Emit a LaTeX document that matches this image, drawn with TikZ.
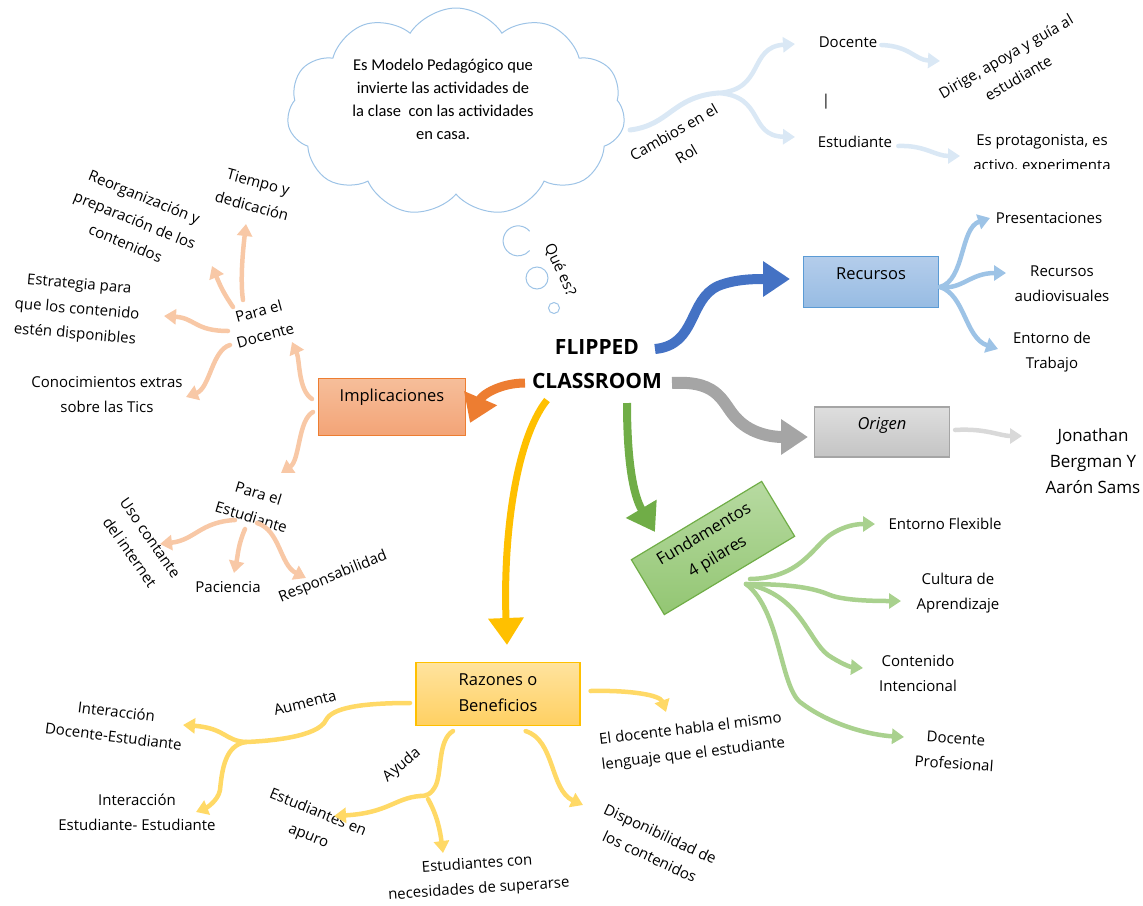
\documentclass[tikz,border=0pt]{standalone}
\usepackage{fontspec}
\setmainfont{Open Sans}
\newfontfamily\cloudfont{Carlito}
\usetikzlibrary{arrows.meta,shapes.symbols}
\definecolor{cloudblue}{HTML}{9DC3E6}
\definecolor{rolblue}{HTML}{DAE8F5}
\definecolor{mblue}{HTML}{4472C4}
\definecolor{recA}{HTML}{B4CDEB}
\definecolor{recB}{HTML}{97BCE3}
\definecolor{recline}{HTML}{5B9BD5}
\definecolor{recbr}{HTML}{9DC3E6}
\definecolor{mgray}{HTML}{A5A5A5}
\definecolor{oriA}{HTML}{DEDEDE}
\definecolor{oriB}{HTML}{C4C4C4}
\definecolor{oribr}{HTML}{D9D9D9}
\definecolor{mgreen}{HTML}{70AD47}
\definecolor{funA}{HTML}{B7DAA1}
\definecolor{funB}{HTML}{93C673}
\definecolor{grbr}{HTML}{A9D18E}
\definecolor{myellow}{HTML}{FFC000}
\definecolor{razA}{HTML}{FFE39E}
\definecolor{razB}{HTML}{FFD062}
\definecolor{yebr}{HTML}{FFD966}
\definecolor{morange}{HTML}{ED7D31}
\definecolor{impA}{HTML}{F6BE9A}
\definecolor{impB}{HTML}{F3A477}
\definecolor{orbr}{HTML}{F8C8A6}
\tikzset{
  tx/.style={font=\fontsize{15}{25}\selectfont, align=center, inner sep=0pt},
  lbl/.style={font=\fontsize{16.5}{26}\selectfont, align=center, inner sep=0pt},
  boxs/.style={draw, line width=1.2pt, inner sep=0pt},
  br/.style={line width=4.5pt, line cap=round, -{Triangle[length=12pt,width=15pt]}},
  bigarr/.style={line width=#1, -{Triangle[length=27pt,width=34pt]}},
  bub/.style={circle, draw=cloudblue, line width=1pt, inner sep=0pt},
}
\begin{document}
\begin{tikzpicture}[x=1pt,y=-1pt]
\useasboundingbox (0,0) rectangle (1143,905);

% ---------- cloud ----------
\node[cloud, cloud puffs=11, cloud puff arc=115, aspect=1.65, draw=cloudblue, line width=1pt,
      minimum width=338pt, minimum height=208pt] (cloud) at (456,112) {};
\node[font=\cloudfont\fontsize{16.5}{23}\selectfont, align=center, inner sep=0pt] (cloudt) at (443,99)
  {Es Modelo Pedagógico que\\invierte las actividades de\\la clase\ \ con las actividades\\en casa.};
\node[circle, inner sep=0pt, minimum size=30pt] (b1) at (518,241) {};
\draw[cloudblue, line width=1pt] (b1.40) arc[start angle=40, end angle=320, radius=15pt];
\node[bub, minimum size=22pt] (b2) at (537,278) {};
\node[bub, minimum size=11pt] (b3) at (554,308) {};
\node[tx, rotate=-65] (quees) at (560,270) {Qué es?};

% ---------- centre ----------
\node[font=\fontsize{21}{26}\selectfont\bfseries, inner sep=0pt] (fl1) at (597,347) {FLIPPED};
\node[font=\fontsize{21}{26}\selectfont\bfseries, inner sep=0pt] (fl2) at (597,381) {CLASSROOM};

% ---------- boxes ----------
\node[boxs, draw=recline, top color=recA, bottom color=recB, minimum width=135pt, minimum height=51pt] (rec) at (871,282) {};
\node[lbl] (recL) at (871,274) {Recursos};
\node[boxs, draw=mgray, top color=oriA, bottom color=oriB, minimum width=135pt, minimum height=50pt] (ori) at (882,432) {};
\node[lbl, font=\fontsize{16.5}{26}\selectfont\itshape] (oriL) at (882,425) {Origen};
\node[boxs, draw=morange, top color=impA, bottom color=impB, minimum width=147pt, minimum height=57pt] (imp) at (392,407) {};
\node[lbl] (impL) at (392,397) {Implicaciones};
\node[boxs, draw=myellow, top color=razA, bottom color=razB, minimum width=164pt, minimum height=63pt] (raz) at (498,694) {};
\node[lbl] (razL) at (498,693) {Razones o\\Beneficios};
\node[boxs, draw=mgreen, top color=funA, bottom color=funB, minimum width=152pt, minimum height=64pt, rotate=31] (fun) at (713,548) {};
\node[lbl, rotate=31] (funL) at (711,546) {Fundamentos\\4 pilares};

% ---------- main arrows ----------
\coordinate (sBlue) at (655,349);   \coordinate (tBlue) at (790,279);
\coordinate (sGray) at (672,383);   \coordinate (tGray) at (808,437);
\coordinate (sGreen) at (627,403);  \coordinate (tGreen) at (655,532);
\coordinate (sYel) at (547,400);    \coordinate (tYel) at (507,645);
\coordinate (sOr) at (525,383);     \coordinate (tOr) at (470,423);
\draw[bigarr=10pt, mblue] (sBlue) .. controls (697,345) and (688,300) .. (718,286) .. controls (735,279) and (755,279) .. (tBlue);
\draw[bigarr=12pt, mgray] (sGray) .. controls (722,380) and (722,405) .. (738,420) .. controls (752,434) and (772,437) .. (tGray);
\draw[bigarr=8pt, mgreen] (sGreen) .. controls (627,460) and (633,495) .. (tGreen);
\draw[bigarr=7pt, myellow] (sYel) .. controls (515,440) and (503,540) .. (tYel);
\draw[bigarr=9pt, morange] (sOr) .. controls (500,383) and (482,395) .. (tOr);

% ---------- Cambios en el Rol ----------
\coordinate (rolS) at (630,130); \coordinate (rolJ) at (718,93);
\node[tx] (doc) at (848,42) {Docente};
\node[tx] (est) at (855,142) {Estudiante};
\node[tx] (bar) at (826,102) {|};
\node[tx, rotate=30] (cambios) at (680,143) {Cambios en el\\Rol};
\node[tx, rotate=30] (dirige) at (1012,67) {Dirige, apoya y guía al\\estudiante};
\begin{scope}
\clip (960,120) rectangle (1143,168);
\node[tx] (prot) at (1042,154) {Es protagonista, es\\activo, experimenta};
\end{scope}
\draw[rolblue, line width=5pt, line cap=round] (rolS) .. controls (670,125) and (672,97) .. (rolJ);
\draw[br, rolblue] (rolJ) .. controls (765,90) and (748,47) .. (795,44);
\draw[br, rolblue] (rolJ) .. controls (765,96) and (748,136) .. (795,137);
\draw[br, rolblue] (doc.east) ++(4,3) .. controls (910,46) and (915,60) .. (940,61);
\draw[br, rolblue] (est.east) ++(6,4) .. controls (925,145) and (935,156) .. (960,156);

% ---------- Recursos branches ----------
\coordinate (recS) at (940,287);
\node[tx] (pres) at (1049,218) {Presentaciones};
\node[tx] (audio) at (1062,284) {Recursos\\audiovisuales};
\node[tx] (ent) at (1052,352) {Entorno de\\Trabajo};
\draw[br, recbr] (recS) .. controls (965,280) and (960,228) .. (990,218);
\draw[br, recbr] (recS) .. controls (962,290) and (970,273) .. (1006,273);
\draw[br, recbr] (recS) .. controls (965,295) and (965,338) .. (998,349);

% ---------- Origen ----------
\node[tx, font=\fontsize{17}{26}\selectfont] (jon) at (1093,461) {Jonathan\\Bergman Y\\Aarón Sams};
\draw[br, oribr] (ori.east) ++(5,-2) .. controls (985,428) and (1000,436) .. (1022,436);

% ---------- Fundamentos branches ----------
\coordinate (fS1) at (750,579); \coordinate (fS2) at (746,584);
\node[tx] (flex) at (945,524) {Entorno Flexible};
\node[tx] (cult) at (958,593) {Cultura de\\Aprendizaje};
\node[tx] (cont) at (918,673) {Contenido\\Intencional};
\node[tx, rotate=-4] (dprof) at (955,751) {Docente\\Profesional};
\draw[br, grbr] (fS1) .. controls (800,578) and (812,548) .. (830,535) .. controls (845,525) and (858,524) .. (875,524);
\draw[br, grbr] (fS2) .. controls (800,584) and (818,590) .. (830,595) .. controls (845,601) and (880,601) .. (901,601);
\draw[br, grbr] (fS2) .. controls (800,594) and (808,640) .. (828,655) .. controls (840,663) and (850,667) .. (863,668);
\draw[br, grbr] (fS2) .. controls (780,610) and (780,685) .. (800,702) .. controls (830,725) and (870,735) .. (904,737);

% ---------- Implicaciones branches ----------
\coordinate (pdS) at (312,399); \coordinate (peS) at (313,412);
\node[tx, rotate=15] (pdoc) at (262,323) {Para el\\Docente};
\node[tx, rotate=-17] (pest) at (255,505) {Para el\\Estudiante};
\draw[br, orbr] (pdS) .. controls (298,390) and (300,360) .. (292,342);
\draw[br, orbr] (peS) .. controls (298,420) and (300,460) .. (281,473);
\node[tx, rotate=-15] (tiempo) at (255,194) {Tiempo y\\dedicación};
\node[tx, rotate=-22] (reorg) at (135,220) {Reorganización y\\preparación de los\\contenidos};
\node[tx, rotate=-5] (estr) at (77,310) {Estrategia para\\que los contenido\\estén disponibles};
\node[tx] (conoc) at (107,395) {Conocimientos extras\\sobre las Tics};
\coordinate (pd1) at (243,300); \coordinate (pd2) at (233,307);
\coordinate (pd3) at (228,331); \coordinate (pd4) at (230,345);
\draw[br, orbr] (pd1) .. controls (240,280) and (243,250) .. (246,224);
\draw[br, orbr] (pd2) .. controls (225,295) and (222,290) .. (212,266);
\draw[br, orbr] (pd3) .. controls (195,331) and (195,318) .. (164,316);
\draw[br, orbr] (pd4) .. controls (212,350) and (210,388) .. (186,397);
\node[tx, rotate=-55] (uso) at (140,545) {Uso contante\\del internet};
\node[tx] (pac) at (228,587) {Paciencia};
\node[tx, rotate=22] (resp) at (333,577) {Responsabilidad};
\coordinate (pe1) at (235,520); \coordinate (pe2) at (245,529); \coordinate (pe3) at (257,523);
\draw[br, orbr] (pe1) .. controls (200,522) and (195,540) .. (160,544);
\draw[br, orbr] (pe2) .. controls (238,545) and (238,555) .. (234,573);
\draw[br, orbr] (pe3) .. controls (280,530) and (280,565) .. (306,578);

% ---------- Razones branches ----------
\coordinate (aS) at (410,703); \coordinate (aJ) at (246,742);
\coordinate (yS) at (453,731); \coordinate (yJ) at (420,796);
\node[tx, rotate=14] (aum) at (305,703) {Aumenta};
\node[tx, rotate=40] (ayu) at (402,765) {Ayuda};
\node[tx, rotate=-7] (ide) at (115,724) {Interacción\\Docente-Estudiante};
\node[tx] (iee) at (137,812) {Interacción\\Estudiante- Estudiante};
\node[tx, rotate=-22] (apuro) at (313,825) {Estudiantes en\\apuro};
\node[tx, rotate=4] (neces) at (478,877) {Estudiantes con\\necesidades de superarse};
\node[tx, rotate=7] (habla) at (692,742) {El docente habla el mismo\\lenguaje que el estudiante};
\node[tx, rotate=-25] (disp) at (655,845) {Disponibilidad de\\los contenidos};
\draw[yebr, line width=4.5pt, line cap=round] (aS) .. controls (360,703) and (332,708) .. (326,720) .. controls (318,737) and (270,741) .. (aJ);
\draw[br, yebr] (aJ) .. controls (225,741) and (225,728) .. (183,725);
\draw[br, yebr] (aJ) .. controls (225,745) and (222,770) .. (220,790) .. controls (218,801) and (206,808) .. (196,812);
\draw[yebr, line width=4.5pt, line cap=round] (yS) .. controls (438,740) and (442,770) .. (436,785) .. controls (431,795) and (426,796) .. (yJ);
\draw[br, yebr] (yJ) .. controls (395,798) and (388,813) .. (334,816);
\draw[br, yebr] (yJ) ++(8,3) .. controls (437,815) and (440,830) .. (443,853);
\draw[br, yebr] (raz.east) ++(10,-3) .. controls (630,690) and (660,695) .. (666,712);
\draw[br, yebr] (raz.south east) ++(-55,5) .. controls (555,740) and (550,790) .. (583,805);

\end{tikzpicture}
\end{document}
